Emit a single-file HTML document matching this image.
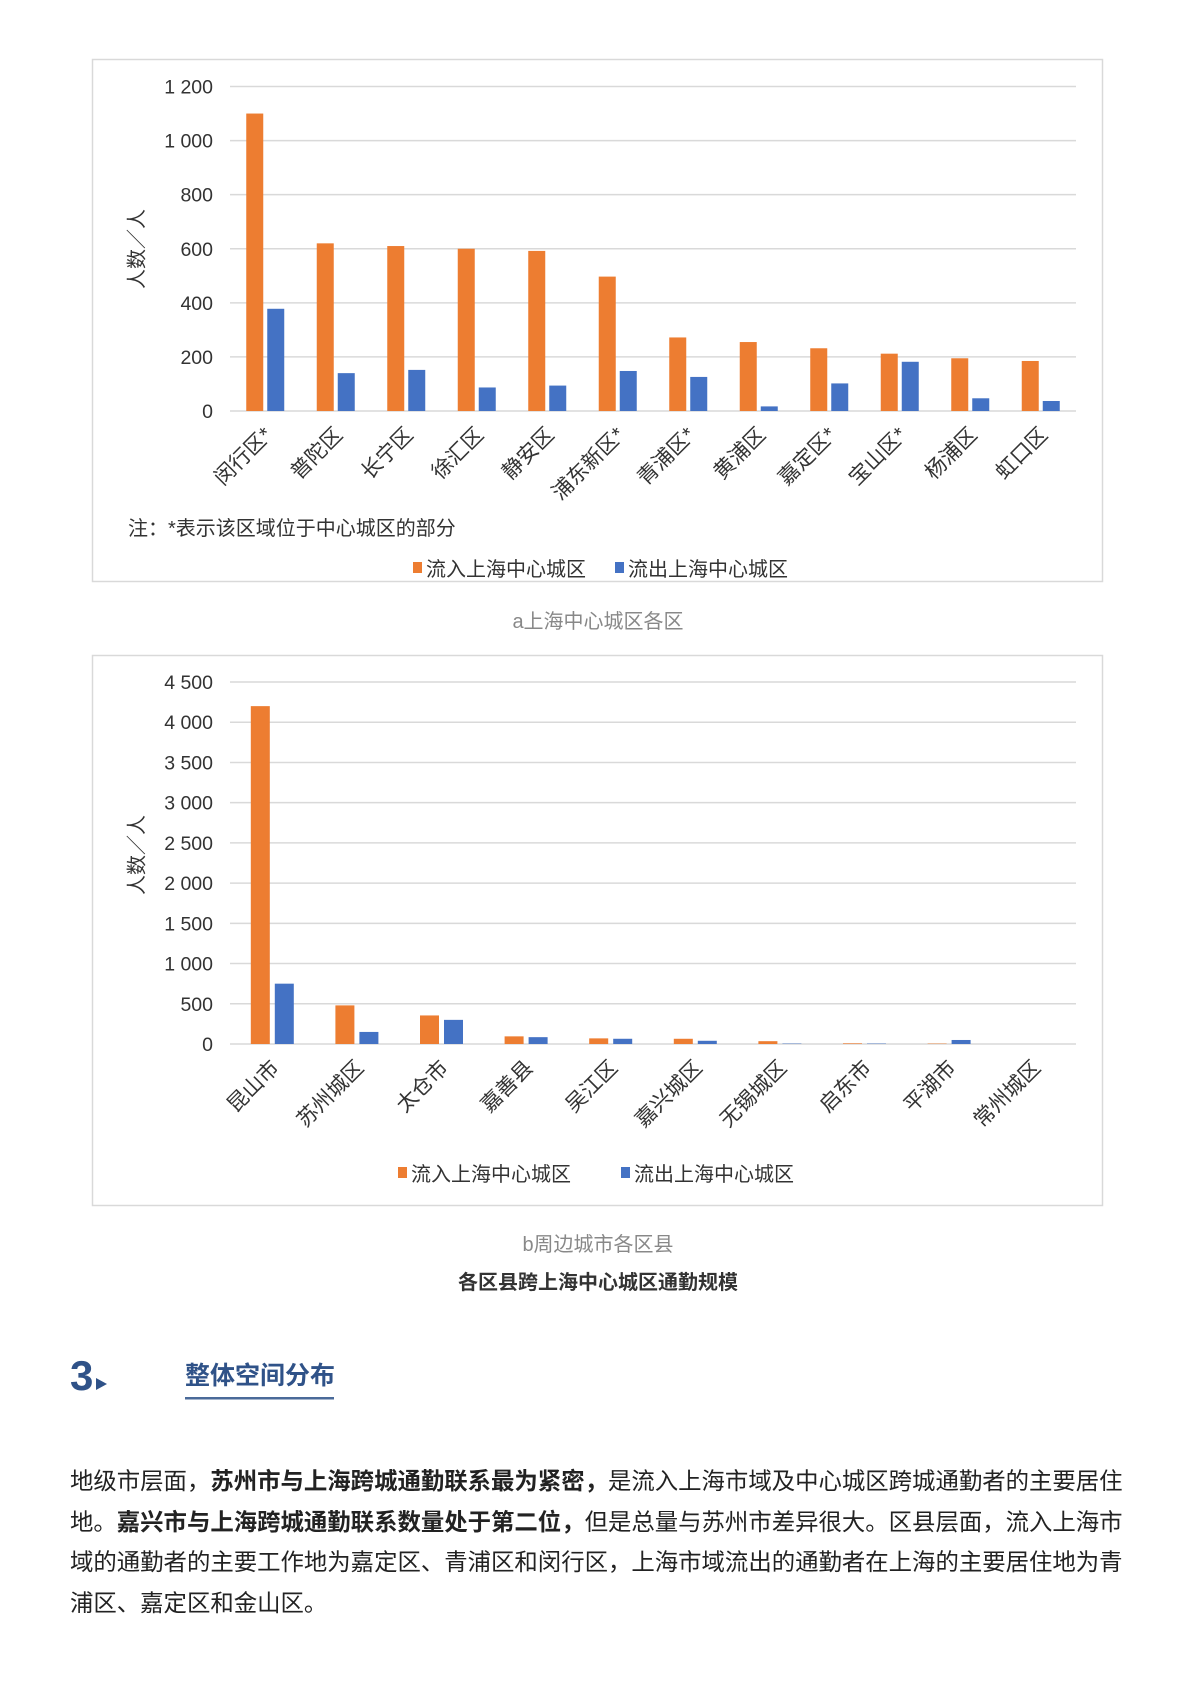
<!DOCTYPE html>
<html><head><meta charset="utf-8"><style>
body{margin:0;background:#fff;width:1189px;height:1683px;position:relative;overflow:hidden;font-family:"Liberation Sans","Noto Sans CJK SC",sans-serif;}
.abs{position:absolute;}
svg text{font-family:"Liberation Sans","Noto Sans CJK SC",sans-serif;}
.para{left:70px;top:1461px;width:1062px;font-size:23.4px;line-height:40.5px;color:#222;}
.para div{white-space:nowrap;}
</style></head><body>
<svg class="abs" style="left:0;top:0" width="1189" height="1683">
<rect x="92.5" y="59.5" width="1010" height="522" fill="#fff" stroke="#d9d9d9" stroke-width="1.5"/>
<rect x="92.5" y="655.5" width="1010" height="550" fill="#fff" stroke="#d9d9d9" stroke-width="1.5"/>
<g id="ca"></g><g id="cb"></g>
<text x="138" y="249" transform="rotate(-90 138 249)" text-anchor="middle" dominant-baseline="middle" font-size="20" fill="#333">人数／人</text>
<text x="128" y="535" font-size="20" fill="#333">注：*表示该区域位于中心城区的部分</text>
<g>
<rect x="413" y="562" width="9" height="11" fill="#ED7D31"/><text x="426" y="576" font-size="20" fill="#333">流入上海中心城区</text>
<rect x="615" y="562" width="9" height="11" fill="#4472C4"/><text x="628" y="576" font-size="20" fill="#333">流出上海中心城区</text></g>
<text x="138" y="855" transform="rotate(-90 138 855)" text-anchor="middle" dominant-baseline="middle" font-size="20" fill="#333">人数／人</text>
<g>
<rect x="398" y="1167" width="9" height="11" fill="#ED7D31"/><text x="411" y="1181" font-size="20" fill="#333">流入上海中心城区</text>
<rect x="621" y="1167" width="9" height="11" fill="#4472C4"/><text x="634" y="1181" font-size="20" fill="#333">流出上海中心城区</text></g>
<text x="598" y="628" text-anchor="middle" font-size="20" fill="#888">a上海中心城区各区</text>
<text x="598" y="1251" text-anchor="middle" font-size="20" fill="#888">b周边城市各区县</text>
<text x="598" y="1289" text-anchor="middle" font-size="20" font-weight="bold" fill="#333">各区县跨上海中心城区通勤规模</text>
<text x="70" y="1390" font-size="42" font-weight="bold" fill="#2f5288">3</text>
<polygon points="96,1378 107,1384 96,1390" fill="#2f5288"/>
<text x="185" y="1384" font-size="25" font-weight="bold" fill="#2f5288">整体空间分布</text>
<rect x="185" y="1397" width="149" height="2.5" fill="#4a6a99"/>
</svg>
<div class="abs para">
<div>地级市层面，<b>苏州市与上海跨城通勤联系最为紧密，</b>是流入上海市域及中心城区跨城通勤者的主要居住</div>
<div>地。<b>嘉兴市与上海跨城通勤联系数量处于第二位，</b>但是总量与苏州市差异很大。区县层面，流入上海市</div>
<div>域的通勤者的主要工作地为嘉定区、青浦区和闵行区，上海市域流出的通勤者在上海的主要居住地为青</div>
<div>浦区、嘉定区和金山区。</div>
</div>
<script>
const catsA=["闵行区*","普陀区","长宁区","徐汇区","静安区","浦东新区*","青浦区*","黄浦区","嘉定区*","宝山区*","杨浦区","虹口区"];
const inA=[1100,620,610,600,592,497,272,255,232,212,195,185];
const outA=[378,140,152,87,94,148,126,17,102,182,47,37];
const ticksA=[0,200,400,600,800,1000,1200];
const tickLabelsA=["0","200","400","600","800","1 000","1 200"];
const catsB=["昆山市","苏州城区","太仓市","嘉善县","吴江区","嘉兴城区","无锡城区","启东市","平湖市","常州城区"];
const inB=[4200,480,355,95,70,65,35,8,5,0];
const outB=[750,150,300,85,65,40,5,5,50,0];
const ticksB=[0,500,1000,1500,2000,2500,3000,3500,4000,4500];
const tickLabelsB=["0","500","1 000","1 500","2 000","2 500","3 000","3 500","4 000","4 500"];
const NS="http://www.w3.org/2000/svg";
function mk(p,t,a){const e=document.createElementNS(NS,t);for(const k in a)e.setAttribute(k,a[k]);p.appendChild(e);return e;}
function draw(id,pre,cats,a,b,ticks,labels,max,y0,y1,bw,gap,labY){
 const g=document.getElementById(id);const x0=230,x1=1076;
 const ys=v=>y0-(v/max)*(y0-y1);const cw=(x1-x0)/cats.length;
 ticks.forEach((t,i)=>{
  const l=mk(g,'line',{x1:x0,x2:x1,y1:ys(t),y2:ys(t),stroke:'#d9d9d9','stroke-width':1.5});
  
  
  const tx=mk(g,'text',{x:213,y:ys(t)+7,'text-anchor':'end','font-size':19.5,fill:'#333'});tx.textContent=labels[i];
  
  
 });
 cats.forEach((c,i)=>{
  const cx=x0+cw*(i+0.5);
  const r1=mk(g,'rect',{x:cx-gap/2-bw,y:ys(a[i]),width:bw,height:y0-ys(a[i]),fill:'#ED7D31'});
  
  
  const r2=mk(g,'rect',{x:cx+gap/2,y:ys(b[i]),width:bw,height:y0-ys(b[i]),fill:'#4472C4'});
  
  
  const tx=mk(g,'text',{x:cx+8,y:labY,'text-anchor':'end','font-size':21,fill:'#333',transform:`rotate(-45 ${cx+8} ${labY})`});tx.textContent=c;
  
  
 });
}
draw('ca','chart-a-',catsA,inA,outA,ticksA,tickLabelsA,1200,411,86.5,17,4,436);
draw('cb','chart-b-',catsB,inB,outB,ticksB,tickLabelsB,4500,1044,682,19,5,1069);
</script>
</body></html>
